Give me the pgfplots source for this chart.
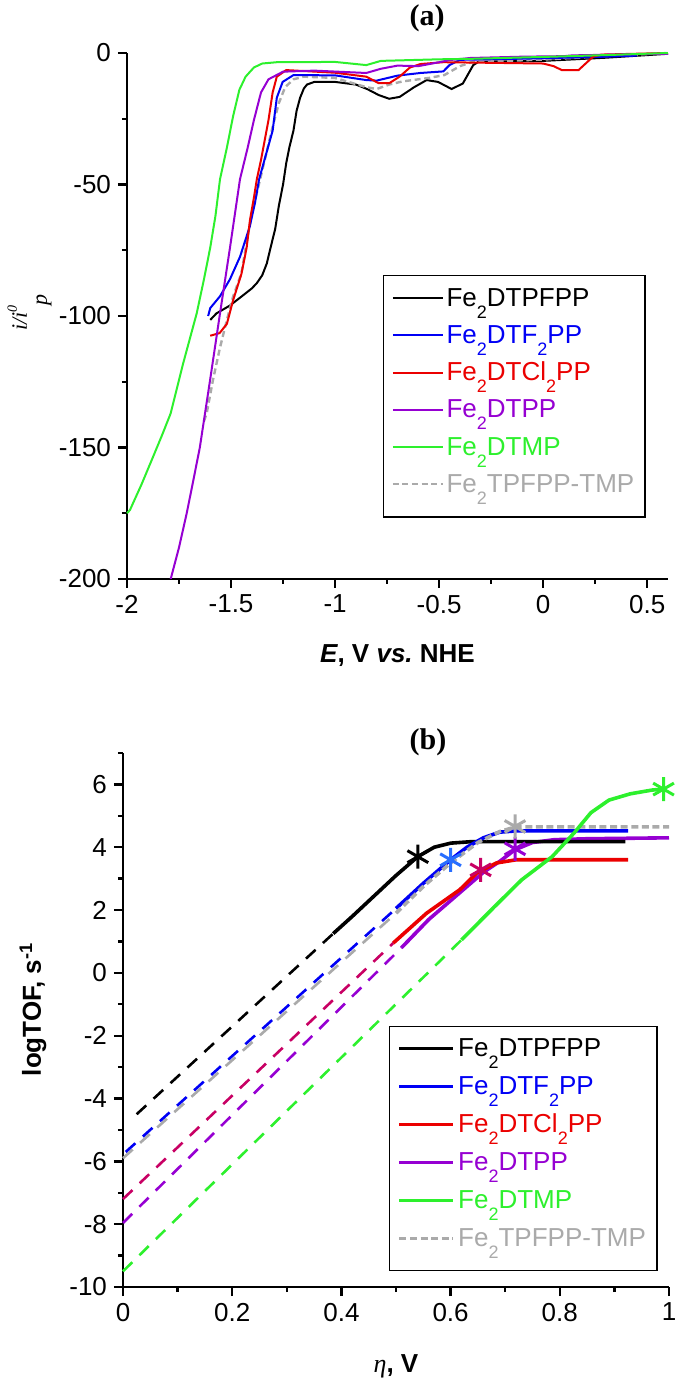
\documentclass[border=0pt]{standalone}
\usepackage{fontspec}
\setmainfont{Liberation Sans}
\newfontfamily\serif{Liberation Serif}
\usepackage{pgfplots}
\pgfplotsset{compat=1.18}
\definecolor{cblack}{RGB}{0,0,0}
\definecolor{cblue}{RGB}{0,0,245}
\definecolor{cred}{RGB}{235,0,0}
\definecolor{cpurple}{RGB}{150,0,210}
\definecolor{cgreen}{RGB}{45,240,45}
\definecolor{cgrey}{RGB}{170,170,170}
\definecolor{ccrimson}{RGB}{200,0,100}
\definecolor{clblue}{RGB}{40,110,255}
\newcommand\sub[1]{\raisebox{-6pt}{\fontsize{9}{10}\selectfont #1}}
\pgfplotsset{
 mystyle/.style={
  scale only axis,
  axis lines=left,
  axis line style={-, line width=1.3pt},
  tick align=outside,
  major tick length=4.5pt,
  minor tick length=2.5pt,
  tick style={line width=1.2pt, black},
  every tick label/.append style={font=\fontsize{13}{15}\selectfont},
  /pgf/number format/assume math mode=true,
  clip=false,
  legend cell align=left,
 }
}
\begin{document}
\begin{tikzpicture}
\path[use as bounding box] (0,0) rectangle (337.5pt,691.5pt);
\node[font=\serif\bfseries\fontsize{15}{17}\selectfont] at (213.5pt,682.5pt) {(a)};
\node[font=\serif\bfseries\fontsize{15}{17}\selectfont] at (214pt,320.5pt) {(b)};
% ---------------- panel (a)
\begin{axis}[mystyle,
 at={(63.5pt,402pt)}, anchor=south west,
 width=270.5pt, height=263pt,
 xmin=-2, xmax=0.6, ymin=-200, ymax=0,
 xtick={-2,-1.5,-1,-0.5,0,0.5}, minor xtick={-1.75,-1.25,-0.75,-0.25,0.25},
 ytick={-200,-150,-100,-50,0}, minor ytick={-175,-125,-75,-25},
 xlabel={\bfseries\fontsize{13}{15}\selectfont\itshape E\upshape, V \itshape vs.\upshape\ NHE},
 xlabel style={at={(axis description cs:0.5,-0.146)}, anchor=center},
 ylabel={\serif\itshape\fontsize{11}{13}\selectfont i/i\raisebox{5pt}{\fontsize{7}{8}\selectfont 0}\raisebox{-10pt}{p}},
 ylabel style={at={(axis description cs:-0.18,0.507)}, anchor=center},
 legend style={at={(0.473,0.578)}, anchor=north west, draw=black, line width=0.7pt,
   font=\fontsize{13}{15}\selectfont, inner xsep=4pt, inner ysep=4.5pt,
   nodes={inner sep=1.3pt, text height=9.5pt, text depth=6.5pt}, row sep=0pt},
 legend image code/.code={\draw[#1] (0pt,2.5pt) -- (25pt,2.5pt);},
]
\addlegendimage{cblack, line width=1pt}
\addlegendentry[text=cblack]{Fe\sub{2}DTPFPP}
\addlegendimage{cblue, line width=1pt}
\addlegendentry[text=cblue]{Fe\sub{2}DTF\sub{2}PP}
\addlegendimage{cred, line width=1pt}
\addlegendentry[text=cred]{Fe\sub{2}DTCl\sub{2}PP}
\addlegendimage{cpurple, line width=1pt}
\addlegendentry[text=cpurple]{Fe\sub{2}DTPP}
\addlegendimage{cgreen, line width=1pt}
\addlegendentry[text=cgreen]{Fe\sub{2}DTMP}
\addlegendimage{cgrey, line width=1.2pt, dash pattern=on 3pt off 1.8pt}
\addlegendentry[text=cgrey]{Fe\sub{2}TPFPP-TMP}
% black
\addplot[cblack, line width=1pt, forget plot] coordinates {
(-1.60,-101.5) (-1.57,-99) (-1.505,-96) (-1.44,-92) (-1.40,-89.5) (-1.376,-87.5)
(-1.35,-84.5) (-1.328,-80) (-1.31,-74) (-1.288,-67) (-1.27,-58) (-1.25,-50)
(-1.235,-42) (-1.22,-36) (-1.20,-29.5) (-1.185,-22) (-1.168,-17) (-1.15,-13.5)
(-1.135,-12) (-1.10,-11) (-1.0,-11) (-0.90,-12) (-0.846,-13.7) (-0.79,-16)
(-0.74,-17.4) (-0.69,-16.7) (-0.62,-13) (-0.56,-10.3) (-0.505,-11) (-0.44,-13.7)
(-0.386,-11.6) (-0.336,-4.6) (-0.31,-3.3) (0,-3) (0.3,-1.8) (0.6,-0.3)};
% grey dashed
\addplot[cgrey, line width=1.2pt, dash pattern=on 3pt off 1.8pt, forget plot] coordinates {
(-1.63,-140) (-1.617,-137) (-1.586,-124) (-1.553,-112) (-1.52,-101.5) (-1.49,-92.6)
(-1.45,-83.7) (-1.425,-72) (-1.40,-61) (-1.36,-48) (-1.33,-38) (-1.30,-28)
(-1.27,-19) (-1.24,-13) (-1.20,-10) (-1.15,-9) (-1.0,-9.5) (-0.85,-13) (-0.8,-13.7)
(-0.74,-12) (-0.675,-10.8) (-0.55,-9.5) (-0.475,-8.4) (-0.40,-5) (-0.34,-3.4)
(0,-2.5) (0.3,-1.2) (0.6,0)};
% blue
\addplot[cblue, line width=1pt, forget plot] coordinates {
(-1.61,-100) (-1.60,-97) (-1.553,-92.5) (-1.505,-86) (-1.457,-77.5) (-1.41,-66)
(-1.385,-57) (-1.365,-48) (-1.337,-40) (-1.30,-29.5) (-1.28,-17) (-1.252,-11)
(-1.20,-8.4) (-1.0,-8.5) (-0.85,-10.3) (-0.8,-10.5) (-0.7,-8.6) (-0.59,-7.6)
(-0.48,-7) (-0.45,-4.6) (-0.40,-2.6) (0.0,-2.0) (0.3,-1.4) (0.45,-1.0)};
% red
\addplot[cred, line width=1pt, forget plot] coordinates {
(-1.60,-107.5) (-1.555,-106.5) (-1.52,-103) (-1.49,-94) (-1.45,-84) (-1.425,-74)
(-1.409,-63.5) (-1.39,-55) (-1.376,-48) (-1.356,-40.7) (-1.32,-25.5) (-1.30,-15)
(-1.28,-9) (-1.235,-6.5) (-1.0,-7.5) (-0.85,-9) (-0.79,-11.5) (-0.74,-11.5)
(-0.69,-9) (-0.64,-5.5) (-0.59,-4.2) (-0.48,-3.5) (0.0,-4) (0.05,-5) (0.09,-6.5)
(0.17,-6.5) (0.24,-1.4) (0.28,-0.6) (0.6,0)};
% purple
\addplot[cpurple, line width=1pt, forget plot] coordinates {
(-1.79,-200) (-1.75,-188) (-1.713,-175) (-1.68,-162) (-1.65,-150) (-1.60,-124)
(-1.553,-99) (-1.505,-74) (-1.457,-48) (-1.42,-36) (-1.39,-25.5) (-1.356,-15)
(-1.32,-10) (-1.25,-7.1) (-1.1,-6.7) (-0.85,-7.6) (-0.78,-6) (-0.7,-4.8)
(-0.6,-5.0) (-0.5,-3.5) (-0.45,-2.7) (-0.35,-1.9) (-0.1,-1.4) (0.1,-1.2)
(0.14,-0.9) (0.5,-0.4) (0.6,-0.3)};
% green
\addplot[cgreen, line width=1pt, forget plot] coordinates {
(-2.0,-175) (-1.986,-173.8) (-1.93,-164) (-1.875,-153.6) (-1.83,-145) (-1.79,-137)
(-1.73,-118) (-1.665,-99) (-1.63,-86) (-1.60,-74) (-1.575,-62) (-1.553,-48)
(-1.52,-36) (-1.49,-24) (-1.46,-14) (-1.43,-9) (-1.39,-5.5) (-1.35,-4)
(-1.28,-3.5) (-1.0,-3.4) (-0.85,-4.6) (-0.78,-3) (-0.5,-2.4) (-0.34,-2.2)
(0,-1.5) (0.3,-0.8) (0.6,0)};
\end{axis}
% ---------------- panel (b)
\begin{axis}[mystyle,
 at={(61.5pt,48pt)}, anchor=south west,
 width=273pt, height=267pt,
 xmin=0, xmax=1, ymin=-10, ymax=7,
 xtick={0,0.2,0.4,0.6,0.8,1}, minor xtick={0.1,0.3,0.5,0.7,0.9},
 ytick={-10,-8,-6,-4,-2,0,2,4,6}, minor ytick={-9,-7,-5,-3,-1,1,3,5,7},
 xlabel={{\serif\itshape\fontsize{13}{15}\selectfont η}\bfseries\fontsize{13}{15}\selectfont, V},
 xlabel style={at={(axis description cs:0.5,-0.148)}, anchor=center},
 ylabel={\bfseries\fontsize{13}{15}\selectfont logTOF, s\textsuperscript{-1}},
 ylabel style={at={(axis description cs:-0.165,0.52)}, anchor=center},
 legend style={at={(0.487,0.489)}, anchor=north west, draw=black, line width=0.7pt,
   font=\fontsize{13}{15}\selectfont, inner xsep=4pt, inner ysep=4pt,
   nodes={inner sep=1.5pt, text height=9.5pt, text depth=6.5pt}, row sep=0pt},
 legend image code/.code={\draw[#1] (0pt,2.5pt) -- (27pt,2.5pt);},
]
\addlegendimage{cblack, line width=1.8pt}
\addlegendentry[text=cblack]{Fe\sub{2}DTPFPP}
\addlegendimage{cblue, line width=1.8pt}
\addlegendentry[text=cblue]{Fe\sub{2}DTF\sub{2}PP}
\addlegendimage{cred, line width=1.8pt}
\addlegendentry[text=cred]{Fe\sub{2}DTCl\sub{2}PP}
\addlegendimage{cpurple, line width=1.8pt}
\addlegendentry[text=cpurple]{Fe\sub{2}DTPP}
\addlegendimage{cgreen, line width=1.8pt}
\addlegendentry[text=cgreen]{Fe\sub{2}DTMP}
\addlegendimage{cgrey, line width=1.8pt, dash pattern=on 3.5pt off 1.8pt}
\addlegendentry[text=cgrey]{Fe\sub{2}TPFPP-TMP}
% extrapolations
\addplot[cgrey, line width=1.3pt, dash pattern=on 6.5pt off 5pt, forget plot] coordinates {(0,-5.9) (0.5,1.9)};
\addplot[cblue, line width=1.3pt, dash pattern=on 6.5pt off 5pt, forget plot] coordinates {(0.005,-5.7) (0.5,2.05)};
\addplot[cblack, line width=1.3pt, dash pattern=on 6.5pt off 5pt, forget plot] coordinates {(0.025,-4.5) (0.385,1.25)};
\addplot[ccrimson, line width=1.3pt, dash pattern=on 6.5pt off 5pt, forget plot] coordinates {(0,-7.2) (0.495,0.95)};
\addplot[cpurple, line width=1.3pt, dash pattern=on 6.5pt off 5pt, forget plot] coordinates {(0,-7.96) (0.51,0.8)};
\addplot[cgreen, line width=1.3pt, dash pattern=on 6.5pt off 5pt, forget plot] coordinates {(0,-9.5) (0.62,1.05)};
% measured parts
\addplot[cpurple, line width=1.8pt, forget plot] coordinates {
(0.51,0.8) (0.56,1.7) (0.62,2.6) (0.66,3.2) (0.69,3.55) (0.718,3.92) (0.75,4.15)
(0.79,4.24) (0.85,4.27) (1.0,4.3)};
\addplot[cred, line width=1.8pt, forget plot] coordinates {
(0.495,0.95) (0.556,1.9) (0.617,2.65) (0.648,3.18) (0.684,3.5) (0.72,3.6) (0.925,3.6)};
\addplot[cblack, line width=1.8pt, forget plot] coordinates {
(0.385,1.25) (0.42,1.8) (0.46,2.45) (0.50,3.1) (0.54,3.7) (0.57,4.0) (0.60,4.13)
(0.64,4.18) (0.92,4.18)};
\addplot[cblue, line width=1.8pt, forget plot] coordinates {
(0.5,2.05) (0.55,2.85) (0.60,3.6) (0.63,4.0) (0.66,4.3) (0.69,4.48) (0.72,4.52) (0.925,4.52)};
\addplot[cgrey, line width=1.8pt, dash pattern=on 3.5pt off 1.8pt, forget plot] coordinates {
(0.5,1.9) (0.55,2.75) (0.60,3.5) (0.65,4.15) (0.69,4.5) (0.72,4.65) (1.0,4.65)};
\addplot[cgreen, line width=1.8pt, forget plot] coordinates {
(0.62,1.05) (0.68,2.1) (0.73,2.96) (0.786,3.7) (0.826,4.45) (0.857,5.1) (0.89,5.5)
(0.929,5.7) (0.969,5.82) (0.99,5.85)};
% stars
\addplot[only marks, mark=asterisk, mark size=6pt, mark options={cblack, line width=1.5pt}, forget plot] coordinates {(0.54,3.7)};
\addplot[only marks, mark=asterisk, mark size=6pt, mark options={clblue, line width=1.5pt}, forget plot] coordinates {(0.6,3.6)};
\addplot[only marks, mark=asterisk, mark size=6pt, mark options={ccrimson, line width=1.5pt}, forget plot] coordinates {(0.655,3.28)};
\addplot[only marks, mark=asterisk, mark size=6pt, mark options={cpurple, line width=1.5pt}, forget plot] coordinates {(0.718,3.95)};
\addplot[only marks, mark=asterisk, mark size=6pt, mark options={cgrey, line width=1.5pt}, forget plot] coordinates {(0.718,4.66)};
\addplot[only marks, mark=asterisk, mark size=6pt, mark options={cgreen, line width=1.5pt}, forget plot] coordinates {(0.99,5.85)};
\end{axis}
\end{tikzpicture}
\end{document}
